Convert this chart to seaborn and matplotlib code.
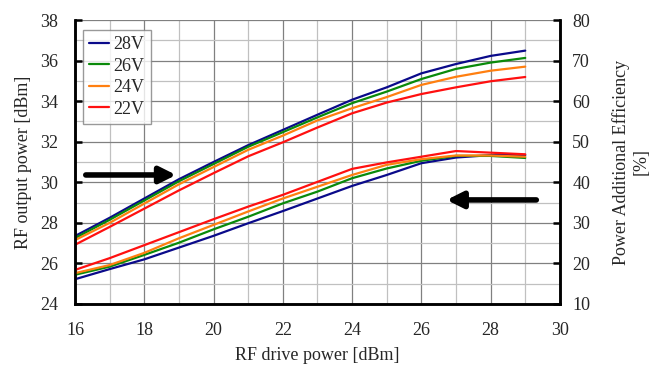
import pandas as pd
import numpy as np
import matplotlib
matplotlib.use("Agg")
import matplotlib.pyplot as plt
import seaborn as sns

# drive power [dBm]
drive = [16, 17, 18, 19, 20, 21, 22, 23, 24, 25, 26, 27, 28, 29]
voltages = ["28V", "26V", "24V", "22V"]

# output power [dBm]
pout_28 = [27.35, 28.25, 29.2, 30.15, 31.0, 31.83, 32.58, 33.33, 34.07, 34.68, 35.37, 35.83, 36.23, 36.49]
pout_26 = [27.25, 28.15, 29.1, 30.05, 30.9, 31.75, 32.47, 33.2, 33.9, 34.47, 35.09, 35.59, 35.9, 36.13]
pout_24 = [27.15, 28.0, 28.95, 29.9, 30.75, 31.6, 32.3, 33.05, 33.65, 34.2, 34.8, 35.2, 35.5, 35.7]
pout_22 = [26.92, 27.8, 28.7, 29.6, 30.45, 31.28, 31.97, 32.7, 33.4, 33.93, 34.35, 34.68, 34.98, 35.19]

# power added efficiency [%]
pae_28 = [16.1, 18.6, 21.0, 23.9, 26.8, 29.9, 32.9, 36.0, 39.1, 41.8, 44.7, 46.1, 46.7, 46.7]
pae_26 = [17.2, 19.2, 22.1, 25.1, 28.4, 31.5, 34.8, 37.7, 41.0, 43.4, 45.3, 46.5, 46.5, 46.0]
pae_24 = [17.6, 19.6, 22.6, 26.2, 29.5, 32.8, 36.0, 38.9, 41.8, 44.3, 45.7, 46.6, 46.6, 46.3]
pae_22 = [18.4, 21.3, 24.5, 27.7, 30.9, 34.0, 36.9, 40.1, 43.3, 44.9, 46.3, 47.7, 47.3, 46.9]

colores = {"28V": "#0a0a8a", "26V": "#0a8a0a", "24V": "#ff7f10", "22V": "#ff1010"}

# tablas largas para seaborn
filas = []
for v, po, pa in zip(voltages, [pout_28, pout_26, pout_24, pout_22], [pae_28, pae_26, pae_24, pae_22]):
    for x, a, b in zip(drive, po, pa):
        filas.append({"drive": x, "V": v, "pout": a, "pae": b})
df = pd.DataFrame(filas)

sns.set_style("white")
plt.rcParams["font.family"] = ["Liberation Serif", "DejaVu Serif"]
plt.rcParams["font.size"] = 13

fig, ax = plt.subplots(figsize=(6.61, 3.67), dpi=100)
fig.subplots_adjust(left=0.1135, right=0.847, top=0.9455, bottom=0.1717)

sns.lineplot(data=df, x="drive", y="pout", hue="V", hue_order=voltages, palette=colores,
             linewidth=1.6, ax=ax, legend=True)

ax2 = ax.twinx()
sns.lineplot(data=df, x="drive", y="pae", hue="V", hue_order=voltages, palette=colores,
             linewidth=1.6, ax=ax2, legend=False)

ax.set_xlim(16, 30)
ax.set_ylim(24, 38)
ax2.set_ylim(10, 80)

ax.set_xticks(range(16, 31, 2))
ax.set_xticks(range(17, 30, 2), minor=True)
ax.set_yticks(range(24, 39, 2))
ax.set_yticks(range(25, 38, 2), minor=True)
ax2.set_yticks(range(10, 81, 10))

ax.grid(which="major", color="#808080", linewidth=0.9)
ax.grid(which="minor", color="#c0c0c0", linewidth=0.9)
ax.set_axisbelow(True)

for a in (ax, ax2):
    for s in ["left", "right", "bottom"]:
        a.spines[s].set_color("black")
        a.spines[s].set_linewidth(1.8)
    a.spines["top"].set_visible(False)
ax.tick_params(axis="both", which="major", direction="in", length=5, width=1.8, color="black")
ax.tick_params(axis="y", pad=12)
ax.tick_params(axis="x", pad=13)
ax.tick_params(which="minor", length=0)
ax2.tick_params(axis="y", direction="in", length=5, width=1.8, color="black", pad=9)

ax.set_xlabel("RF drive power [dBm]", labelpad=6)
ax.set_ylabel("RF output power [dBm]", labelpad=6)
ax2.set_ylabel("Power Additional Efficiency\n[%]", labelpad=16)

leg = ax.legend(loc="upper left", bbox_to_anchor=(0.016, 0.965), title=None, fontsize=13,
                frameon=True, fancybox=False, handlelength=1.1, handletextpad=0.25,
                labelspacing=0.25, borderpad=0.35, borderaxespad=0)
leg.get_frame().set_edgecolor("#808080")
leg.get_frame().set_linewidth(1.0)

# flechas
ax.annotate("", xy=(19.0, 30.36), xytext=(16.23, 30.36),
            arrowprops=dict(arrowstyle="-|>", lw=4, color="black", mutation_scale=24))
ax.annotate("", xy=(26.65, 29.13), xytext=(29.4, 29.13),
            arrowprops=dict(arrowstyle="-|>", lw=4, color="black", mutation_scale=24))

plt.savefig("out.png", dpi=100)
